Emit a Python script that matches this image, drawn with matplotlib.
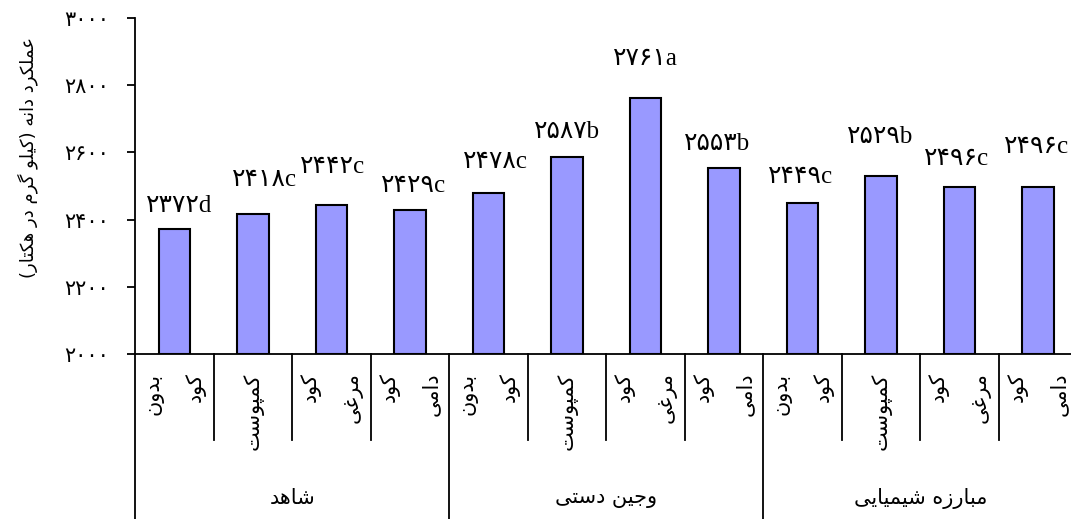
import matplotlib
matplotlib.use("Agg")
import matplotlib.pyplot as plt
import numpy as np

# data
groups = ["شاهد", "وجین دستی", "مبارزه شیمیایی"]
fertilizers = ["بدون کود", "کمپوست", "کود مرغی", "کود دامی"]
yields = [2372, 2418, 2442, 2429, 2478, 2587, 2761, 2553, 2449, 2529, 2496, 2496]
letters = ["d", "c", "c", "c", "c", "b", "a", "b", "c", "b", "c", "c"]
yticks = [2000, 2200, 2400, 2600, 2800, 3000]
ylabel = "عملکرد دانه (کیلو گرم در هکتار)"

# label nudges in pixels (dx, gap above bar)
label_dx = [5, 11, 1, 4, 7, 0, 0, -7, -2, -1, -3, -1]
label_gap = [17, 28, 32, 18, 25, 19, 33, 18, 20, 33, 22, 34]

# arabic presentation forms: isolated, final, initial, medial
FORMS = {
    "ا": ("\uFE8D", "\uFE8E"),
    "ب": ("\uFE8F", "\uFE90", "\uFE91", "\uFE92"),
    "پ": ("\uFB56", "\uFB57", "\uFB58", "\uFB59"),
    "ت": ("\uFE95", "\uFE96", "\uFE97", "\uFE98"),
    "ج": ("\uFE9D", "\uFE9E", "\uFE9F", "\uFEA0"),
    "د": ("\uFEA9", "\uFEAA"),
    "ر": ("\uFEAD", "\uFEAE"),
    "ز": ("\uFEAF", "\uFEB0"),
    "س": ("\uFEB1", "\uFEB2", "\uFEB3", "\uFEB4"),
    "ش": ("\uFEB5", "\uFEB6", "\uFEB7", "\uFEB8"),
    "ع": ("\uFEC9", "\uFECA", "\uFECB", "\uFECC"),
    "غ": ("\uFECD", "\uFECE", "\uFECF", "\uFED0"),
    "ک": ("\uFB8E", "\uFB8F", "\uFB90", "\uFB91"),
    "گ": ("\uFB92", "\uFB93", "\uFB94", "\uFB95"),
    "ل": ("\uFEDD", "\uFEDE", "\uFEDF", "\uFEE0"),
    "م": ("\uFEE1", "\uFEE2", "\uFEE3", "\uFEE4"),
    "ن": ("\uFEE5", "\uFEE6", "\uFEE7", "\uFEE8"),
    "ه": ("\uFEE9", "\uFEEA", "\uFEEB", "\uFEEC"),
    "و": ("\uFEED", "\uFEEE"),
    "ی": ("\uFBFC", "\uFBFD", "\uFBFE", "\uFBFF"),
}


def shape(text):
    """reshape persian text and put it in visual order"""
    out = []
    for i, ch in enumerate(text):
        forms = FORMS.get(ch)
        if forms is None:
            out.append(ch)
            continue
        prev = text[i - 1] if i > 0 else ""
        nxt = text[i + 1] if i + 1 < len(text) else ""
        join_prev = prev in FORMS and len(FORMS[prev]) == 4
        join_next = len(forms) == 4 and nxt in FORMS
        if join_prev and join_next:
            out.append(forms[3])
        elif join_prev:
            out.append(forms[1])
        elif join_next:
            out.append(forms[2])
        else:
            out.append(forms[0])
    vis = "".join(reversed(out))
    return vis.translate(str.maketrans("()", ")("))


def fa_digits(n):
    return str(n).translate(str.maketrans("0123456789", "۰۱۲۳۴۵۶۷۸۹"))


plt.rcParams["font.family"] = ["DejaVu Sans"]
fig = plt.figure(figsize=(10.71, 5.19), dpi=100)
ax = fig.add_axes([135.25 / 1071, 165 / 519, (12 * 78.5) / 1071, 336 / 519])

x = np.arange(len(yields))
ax.bar(x, [v - 2000 for v in yields], bottom=2000, width=0.4,
       color="#9999FF", edgecolor="black", linewidth=1.5, zorder=3)
ax.set_xlim(-0.5, len(yields) - 0.5)
ax.set_ylim(2000, 3000)

for i, v in enumerate(yields):
    ax.annotate(fa_digits(v) + letters[i], (x[i], v),
                xytext=(label_dx[i], label_gap[i]), textcoords="offset pixels",
                ha="center", va="baseline", fontsize=18,
                family=["Liberation Serif", "DejaVu Sans"])

ax.set_yticks(yticks)
ax.set_yticklabels([fa_digits(t) for t in yticks], fontsize=15)
ax.tick_params(axis="y", direction="out", length=6, width=1.3, pad=13)
ax.set_xticks([])
for s in ["top", "right"]:
    ax.spines[s].set_visible(False)
ax.spines["left"].set_linewidth(1.3)
ax.spines["bottom"].set_linewidth(1.3)

# two level category axis
tr = ax.get_xaxis_transform()
n_fert = len(fertilizers)
for k in range(len(yields) + 1):
    bottom = -0.491 if k % n_fert == 0 else -0.256
    ax.plot([k - 0.5, k - 0.5], [0, bottom], transform=tr, color="black",
            lw=1.3, clip_on=False)

for i in range(len(yields)):
    words = fertilizers[i % n_fert].split(" ")
    if len(words) == 1:
        offs = [0]
    else:
        offs = [-0.27, 0.27]
    for w, o in zip(words, offs):
        ax.text(x[i] + o, -0.055, shape(w), transform=tr, rotation=90,
                ha="center", va="top", fontsize=15)

for g, name in enumerate(groups):
    ax.text(g * n_fert + (n_fert - 1) / 2, -0.43, shape(name), transform=tr,
            ha="center", va="center", fontsize=15)

fig.text(28 / 1071, 1 - 158 / 519, shape(ylabel), rotation=90,
         ha="center", va="center", fontsize=13)

fig.savefig("out.png", dpi=100)
